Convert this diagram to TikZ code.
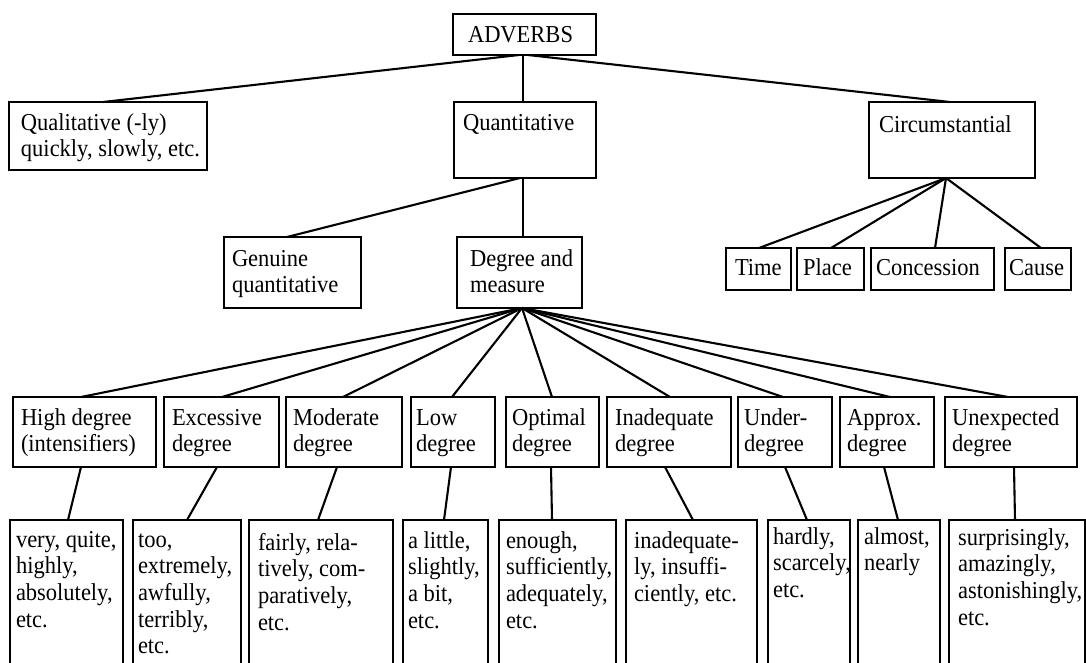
\documentclass[tikz,border=0pt]{standalone}
\usepackage{graphicx}
\usepackage{fontspec}
\setmainfont{Liberation Serif}

% width, height, left padding, first baseline from top, lines
\newcommand\cellbox[5]{%
  \parbox[t][#2][t]{#1}{\hspace*{#3}\rule{0pt}{#4}%
    \scalebox{1}[1.08]{\begin{tabular}[t]{@{}l@{}}#5\end{tabular}}}}

\tikzset{
  cell/.style={draw=black, line width=2.6pt, anchor=north west,
    inner sep=0pt, outer sep=0pt, fill=white,
    font=\fontsize{22.5pt}{24.7pt}\selectfont},
  link/.style={draw=black, line width=2.1pt, line cap=round},
}

\begin{document}
\begin{tikzpicture}[x=1pt, y=-1pt]
\useasboundingbox[fill=white] (0,0) rectangle (1086,662);

% ---- top level ----
\node[cell] (adv)   at (453,14)  {\cellbox{143pt}{41pt}{15pt}{28pt}{ADVERBS}};
\node[cell] (qual)  at (9,102)   {\cellbox{198pt}{68pt}{12pt}{28pt}{Qualitative (-ly)\\quickly, slowly, etc.}};
\node[cell] (quant) at (454,102) {\cellbox{142pt}{76pt}{9pt}{28pt}{Quantitative}};
\node[cell] (circ)  at (869,102) {\cellbox{166pt}{76pt}{10pt}{30pt}{Circumstantial}};

% ---- circumstantial subtypes ----
\node[cell] (time)  at (726,248)  {\cellbox{65pt}{42pt}{9pt}{27pt}{Time}};
\node[cell] (place) at (797,248)  {\cellbox{67pt}{42pt}{6pt}{27pt}{Place}};
\node[cell] (conc)  at (871,248)  {\cellbox{123pt}{42pt}{5pt}{27pt}{Concession}};
\node[cell] (cause) at (1005,248) {\cellbox{66pt}{42pt}{4pt}{27pt}{Cause}};

% ---- quantitative subtypes ----
\node[cell] (gen) at (224,237) {\cellbox{137pt}{71pt}{8pt}{29pt}{Genuine\\quantitative}};
\node[cell] (dm)  at (457,237) {\cellbox{125pt}{71pt}{13pt}{29pt}{Degree and\\measure}};

% ---- degree classes ----
\node[cell] (hd) at (13,397)  {\cellbox{143pt}{70pt}{8pt}{28pt}{High degree\\(intensifiers)}};
\node[cell] (ex) at (164,397) {\cellbox{115pt}{70pt}{8pt}{28pt}{Excessive\\degree}};
\node[cell] (mo) at (286,397) {\cellbox{116pt}{70pt}{7pt}{28pt}{Moderate\\degree}};
\node[cell] (lo) at (411,397) {\cellbox{84pt}{70pt}{5pt}{28pt}{Low\\degree}};
\node[cell] (op) at (506,397) {\cellbox{93pt}{70pt}{6pt}{28pt}{Optimal\\degree}};
\node[cell] (ia) at (607,397) {\cellbox{124pt}{70pt}{8pt}{28pt}{Inadequate\\degree}};
\node[cell] (ud) at (738,397) {\cellbox{94pt}{70pt}{6pt}{28pt}{Under-\\degree}};
\node[cell] (ap) at (840,397) {\cellbox{94pt}{70pt}{7pt}{28pt}{Approx.\\degree}};
\node[cell] (ux) at (945,397) {\cellbox{132pt}{70pt}{7pt}{28pt}{Unexpected\\degree}};

% ---- examples ----
\node[cell] (e1) at (10,520)  {\cellbox{113pt}{180pt}{6pt}{27pt}{very, quite,\\highly,\\absolutely,\\etc.}};
\node[cell] (e2) at (133,520) {\cellbox{108pt}{180pt}{5pt}{27pt}{too,\\extremely,\\awfully,\\terribly,\\etc.}};
\node[cell] (e3) at (249,520) {\cellbox{144pt}{180pt}{9pt}{30pt}{fairly, rela-\\tively, com-\\paratively,\\etc.}};
\node[cell] (e4) at (403,520) {\cellbox{85pt}{180pt}{5pt}{28pt}{a little,\\slightly,\\a bit,\\etc.}};
\node[cell] (e5) at (499,520) {\cellbox{117pt}{180pt}{7pt}{28pt}{enough,\\sufficiently,\\adequately,\\etc.}};
\node[cell] (e6) at (626,520) {\cellbox{131pt}{180pt}{8pt}{28pt}{inadequate-\\ly, insuffi-\\ciently, etc.}};
\node[cell] (e7) at (768,520) {\cellbox{82pt}{180pt}{5pt}{24pt}{hardly,\\scarcely,\\etc.}};
\node[cell] (e8) at (858,520) {\cellbox{82pt}{180pt}{6pt}{24pt}{almost,\\nearly}};
\node[cell] (e9) at (949,520) {\cellbox{136pt}{180pt}{9pt}{25pt}{surprisingly,\\amazingly,\\astonishingly,\\etc.}};

% ---- connectors ----
\draw[link] ([xshift=-5.5pt]adv.south) -- ([xshift=-5pt]qual.north);
\draw[link] ([xshift=-1.5pt]adv.south) -- ([xshift=-2pt]quant.north);
\draw[link] ([xshift=3.5pt]adv.south)  -- ([xshift=-2pt]circ.north);

\draw[link] ([xshift=-6pt]circ.south) -- ([xshift=0.5pt]time.north);
\draw[link] ([xshift=-6pt]circ.south) -- ([xshift=0.5pt]place.north);
\draw[link] ([xshift=-6pt]circ.south) -- ([xshift=2.5pt]conc.north);
\draw[link] ([xshift=-6pt]circ.south) -- ([xshift=3pt]cause.north);

\draw[link] ([xshift=-5pt]quant.south) -- ([xshift=-5.5pt]gen.north);
\draw[link] ([xshift=-2pt]quant.south) -- ([xshift=3.5pt]dm.north);

\foreach \n/\s in {hd/-3.5, ex/0.5, mo/-1, lo/-1, op/-0.5, ia/1, ud/-2, ap/3, ux/-3}
  \draw[link] ([xshift=2.5pt]dm.south) -- ([xshift=\s pt]\n.north);

\foreach \a/\sa/\b/\sb in {hd/-3.5/e1/1.5, ex/-4.5/e2/0, mo/-7/e3/-3, lo/-2/e4/-1.5,
    op/-1.5/e5/-5.5, ia/-4/e6/1.5, ud/0/e7/-2, ap/-3/e8/-1, ux/3/e9/-2}
  \draw[link] ([xshift=\sa pt]\a.south) -- ([xshift=\sb pt]\b.north);
\end{tikzpicture}
\end{document}
